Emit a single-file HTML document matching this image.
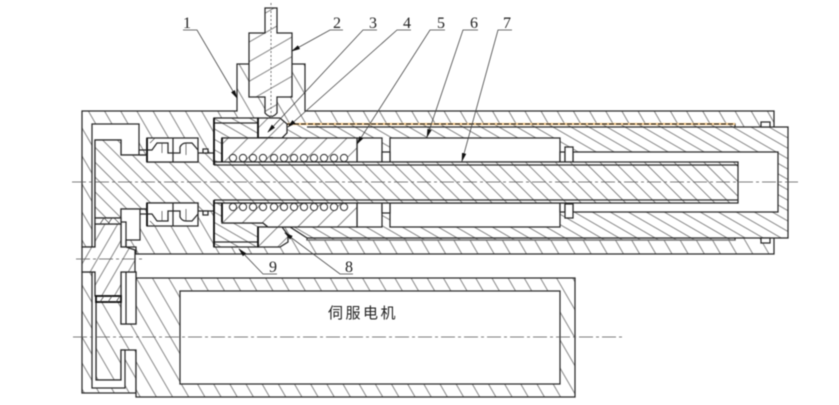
<!DOCTYPE html>
<html><head><meta charset="utf-8">
<style>
html,body{margin:0;padding:0;background:#fff;width:839px;height:405px;overflow:hidden}
svg{display:block;filter:blur(.4px)}
text{fill:#222}
.n{font-family:"Liberation Serif",serif;font-size:16px;text-anchor:middle}
.o{stroke:#2a2a2a;stroke-width:1.25;fill:none}
.t{stroke:#444;stroke-width:.7;fill:none}
.k{stroke:#111;stroke-width:1.8;fill:none}
.w{fill:#fff}
</style></head><body>
<svg width="839" height="405" viewBox="0 0 839 405" xmlns="http://www.w3.org/2000/svg">
<defs>
<pattern id="h1" width="14" height="14" patternUnits="userSpaceOnUse" patternTransform="rotate(-30)"><rect width="14" height="14" fill="#fff"/><line x1="7" y1="0" x2="7" y2="14" stroke="#555" stroke-width=".7"/></pattern>
<pattern id="h2" width="10.5" height="10.5" patternUnits="userSpaceOnUse" patternTransform="rotate(-45)"><rect width="10.5" height="10.5" fill="#fff"/><line x1="5" y1="0" x2="5" y2="10.5" stroke="#555" stroke-width=".7"/></pattern>
<pattern id="h3" width="9" height="9" patternUnits="userSpaceOnUse" patternTransform="rotate(-60)"><rect width="9" height="9" fill="#fff"/><line x1="4.5" y1="0" x2="4.5" y2="9" stroke="#555" stroke-width=".7"/></pattern>
<pattern id="h4" width="14" height="14" patternUnits="userSpaceOnUse" patternTransform="rotate(45)"><rect width="14" height="14" fill="#fff"/><line x1="7" y1="0" x2="7" y2="14" stroke="#555" stroke-width=".7"/></pattern>
<pattern id="h5" width="17" height="17" patternUnits="userSpaceOnUse" patternTransform="rotate(60)"><rect width="17" height="17" fill="#fff"/><line x1="8" y1="0" x2="8" y2="17" stroke="#555" stroke-width=".7"/></pattern>
<pattern id="h6" width="11" height="11" patternUnits="userSpaceOnUse" patternTransform="rotate(30)"><rect width="11" height="11" fill="#fff"/><line x1="5" y1="0" x2="5" y2="11" stroke="#555" stroke-width=".7"/></pattern>
<pattern id="h7" width="13" height="13" patternUnits="userSpaceOnUse" patternTransform="rotate(-30)"><rect width="13" height="13" fill="#fff"/><line x1="6.5" y1="0" x2="6.5" y2="13" stroke="#555" stroke-width=".7"/></pattern>
<marker id="a" markerWidth="9" markerHeight="6" refX="8" refY="3" orient="auto" markerUnits="userSpaceOnUse"><path d="M0,0.8 L9,3 L0,5.2Z" fill="#111"/></marker>
</defs>

<!-- housing -->
<path class="o" style="fill:url(#h1)" d="M82,111 H237 V64 H305 V111 H774 V254 H136 V247 H82 Z"/>
<!-- sleeve -->
<path class="o" style="fill:url(#h3)" d="M282,124 H735 V127 H788 V238 H735 V240 H307 V238 L290,227 H282 Z"/>
<line class="o" x1="307" y1="127" x2="735" y2="127"/>
<line class="o" x1="307" y1="238" x2="735" y2="238"/>
<path d="M287,124 H735" stroke="#f2c88c" stroke-width="2.2" fill="none"/>
<path d="M287,124 H735" stroke="#111" stroke-width="1.1" stroke-dasharray="5 2" fill="none"/>
<line x1="307" y1="240" x2="735" y2="240" stroke="#777" stroke-width="1.2"/>
<!-- sleeve cavities -->
<path class="o w" d="M573,152 H778 V212 H573 Z"/>
<rect class="o w" x="390" y="138" width="170" height="24"/>
<rect class="o w" x="390" y="203" width="170" height="24"/>
<rect class="o w" x="357" y="138" width="25" height="24"/>
<rect class="o w" x="357" y="203" width="25" height="24"/>
<rect class="o w" x="382" y="152" width="8" height="10"/>
<rect class="o w" x="382" y="203" width="8" height="10"/>
<rect class="o w" x="560" y="152" width="5" height="10"/>
<rect class="o w" x="560" y="203" width="5" height="9"/>
<rect class="o w" x="565" y="147" width="8" height="15"/>
<rect class="o w" x="565" y="204" width="8" height="14"/>
<rect class="o w" x="761" y="122" width="9" height="5"/>
<rect class="o w" x="761" y="238" width="9" height="5"/>
<!-- screw -->
<path class="o" style="fill:url(#h5)" d="M265,8 H277 V33 H292 V97 H277 V113 Q271,120 265,113 V97 H249 V33 H265 Z"/>
<!-- left pieces -->
<path class="o" style="fill:url(#h3)" d="M214,118 H258 V138 H222 V162 H214 Z"/>
<line class="o" x1="214" y1="123" x2="258" y2="123"/>
<path class="o" style="fill:url(#h3)" d="M214,203 H222 V223 H263 L268,227 H258 V247 H214 Z"/>
<line class="o" x1="214" y1="242" x2="258" y2="242"/>
<!-- blocks -->
<path class="o" style="fill:url(#h4)" d="M258,118 H280 L287,124 V133 L282,138 H258 Z"/>
<path class="k" d="M258,118 V138 H273"/>
<path class="o" style="fill:url(#h4)" d="M258,227 H282 L288,235 V242 L280,247 H258 Z"/>
<path class="k" d="M258,227 V247"/>
<!-- nuts -->
<path class="o" style="fill:url(#h4)" d="M222,138 H357 V162 H222 Z"/>
<path class="o" style="fill:url(#h4)" d="M222,203 H357 V227 H268 L263,223 H222 Z"/>
<!-- left channel -->
<path class="o w" d="M92,124 H139 V155 H121 V140 H95 V247 H92 Z"/>
<!-- shaft -->
<path class="o" style="fill:url(#h2)" d="M95,140 H121 V155 H147 V162 H198 V153 H214 V162 H738 V203 H214 V211 H198 V203 H147 V209 H121 V218 H95 Z"/>
<path class="o" d="M214,165 H738 M214,200 H738"/>
<path class="k" d="M214,118 V165 M214,200 V247 M222,138 V162 M222,203 V222"/>
<!-- balls -->
<g class="o w" style="stroke-width:1">
<circle cx="233" cy="158" r="3.6"/><circle cx="243" cy="158" r="3.6"/><circle cx="253" cy="158" r="3.6"/><circle cx="263" cy="158" r="3.6"/><circle cx="274" cy="158" r="3.6"/><circle cx="284" cy="158" r="3.6"/><circle cx="294" cy="158" r="3.6"/><circle cx="304" cy="158" r="3.6"/><circle cx="314" cy="158" r="3.6"/><circle cx="324" cy="158" r="3.6"/><circle cx="334" cy="158" r="3.6"/><circle cx="344" cy="158" r="3.6"/>
<circle cx="233" cy="207" r="3.6"/><circle cx="243" cy="207" r="3.6"/><circle cx="253" cy="207" r="3.6"/><circle cx="263" cy="207" r="3.6"/><circle cx="274" cy="207" r="3.6"/><circle cx="284" cy="207" r="3.6"/><circle cx="294" cy="207" r="3.6"/><circle cx="304" cy="207" r="3.6"/><circle cx="314" cy="207" r="3.6"/><circle cx="324" cy="207" r="3.6"/><circle cx="334" cy="207" r="3.6"/><circle cx="344" cy="207" r="3.6"/>
</g>
<!-- bearings -->
<g>
<rect class="o w" x="147" y="138" width="51" height="24"/>
<path class="o" d="M173,138 V162 M147,150 H152 L157,143 H168 V153 H173 H180 V147 Q182,143 186,143 H192 L198,150"/>
<path class="t" d="M155,138 L150,143 M162,143 V153 M186,143 V155"/>
<rect class="o w" x="147" y="203" width="51" height="23"/>
<path class="o" d="M173,203 V226 M147,214 H152 L157,221 H168 V211 H173 H180 V217 Q182,221 186,221 H192 L198,214"/>
<path class="t" d="M155,226 L150,221 M162,221 V211 M186,221 V209"/>
<path class="k" d="M147,138 V162 M147,203 V226"/>
</g>
<rect class="o w" x="203" y="149" width="5" height="4"/>
<rect class="o w" x="203" y="211" width="5" height="4"/>
<path class="o" d="M139,150 H147 M139,155 H147 M140,209 H147 M140,214 H147"/>
<!-- lower left box -->
<path class="o w" d="M121,209 H140 V240 H126 V247 H121 Z"/>
<path class="o" d="M121,222 H126 V247"/>
<!-- cover lower -->
<path class="o" style="fill:url(#h7)" d="M82,272 H136 V393 H82 Z"/>
<!-- motor -->
<path class="o" style="fill:url(#h1)" d="M136,278 H575 V397 H136 V350 H121 V380 H96 V302 H121 V324 H136 Z"/>
<path class="o w" d="M92,272 H96 V380 H121 V350 H125 V388 H92 Z"/>
<rect class="o w" x="180" y="291" width="380" height="93"/>
<rect class="o w" x="121" y="272" width="15" height="52"/>
<line class="o" x1="126" y1="272" x2="126" y2="324"/>
<!-- gear -->
<path class="o" style="fill:url(#h6)" d="M95,224 H121 V247 H126 L135,250 V272 H121 V296 H95 V272 H82 V247 H95 Z"/>
<rect class="o w" x="95" y="218" width="26" height="6"/>
<path class="t" d="M100,224 L104,218 M108,224 L112,218 M104,218 L110,224 M114,218 L120,224"/>
<rect class="k w" x="96" y="296" width="25" height="6"/>
<path class="t" d="M100,302 L104,296 M108,302 L112,296 M116,302 L120,296"/>
<!-- centre lines -->
<g stroke="#555" stroke-width=".8" fill="none" stroke-dasharray="14 3 3 3">
<line x1="72" y1="182" x2="798" y2="182"/>
<line x1="73" y1="337" x2="622" y2="337"/>
<line x1="76" y1="259" x2="143" y2="259"/>
</g>
<line x1="271" y1="3" x2="271" y2="117" stroke="#777" stroke-width="1" stroke-dasharray="2 2"/>
<!-- leaders -->
<g stroke="#444" stroke-width=".8" fill="none">
<path d="M183,30 H197 L237,98" marker-end="url(#a)"/>
<path d="M343,30 H330 L292,51" marker-end="url(#a)"/>
<path d="M377,30 H363 L268,132" marker-end="url(#a)"/>
<path d="M411,30 H397 L288,127" marker-end="url(#a)"/>
<path d="M445,30 H430 L357,144" marker-end="url(#a)"/>
<path d="M478,30 H463 L427,137" marker-end="url(#a)"/>
<path d="M512,30 H498 L462,161" marker-end="url(#a)"/>
<path d="M353,274 H340 L285,233" marker-end="url(#a)"/>
<path d="M277,274 H263 L239,249" marker-end="url(#a)"/>
</g>
<!-- labels -->
<text class="n" x="187" y="28">1</text>
<text class="n" x="337" y="28">2</text>
<text class="n" x="373" y="28">3</text>
<text class="n" x="407" y="28">4</text>
<text class="n" x="441" y="28">5</text>
<text class="n" x="474" y="28">6</text>
<text class="n" x="507" y="28">7</text>
<text class="n" x="349" y="272">8</text>
<text class="n" x="273" y="272">9</text>
<text x="328" y="318" style="font-family:'Liberation Sans','Noto Sans CJK SC',sans-serif;font-size:15px;letter-spacing:2.5px">伺服电机</text>
</svg>
</body></html>
